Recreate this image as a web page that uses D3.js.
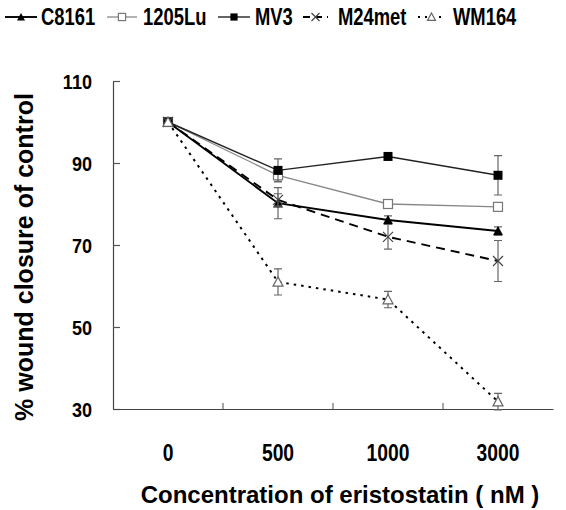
<!DOCTYPE html>
<html><head><meta charset="utf-8">
<script src="https://cdn.jsdelivr.net/npm/d3@7"></script>
<style>body{margin:0;background:#fff}svg{display:block}text{font-family:Arial,"Liberation Sans",sans-serif;font-weight:bold;fill:#000}</style>
</head><body>
<svg id="c" width="566" height="510"></svg>
<script>
const categories = ["0","500","1000","3000"];
const seriesNames = ["C8161","1205Lu","MV3","M24met","WM164"];
const c8161 = [100, 80.2, 76.1, 73.4];
const c8161Err = [0, 3.8, 1.0, 1.0];
const lu1205 = [100, 87.0, 80.0, 79.3];
const lu1205Err = [0, 1.5, 0.6, 0.8];
const mv3 = [100, 88.2, 91.6, 87.0];
const mv3Err = [0, 2.8, 0.8, 4.8];
const m24met = [100, 81.0, 72.0, 66.1];
const m24metErr = [0, 1.5, 3.0, 5.0];
const wm164 = [100, 61.0, 56.7, 31.8];
const wm164Err = [0, 3.2, 2.0, 2.0];
const yTicks = [30, 50, 70, 90, 110];

const svg = d3.select("#c");
const x = d3.scaleBand().domain(categories).range([113, 553]);
const y = d3.scaleLinear().domain([30, 110]).range([409, 81]);

function ctext(parent, tx, ty, str, size, sx, anchor) {
  return parent.append("text")
    .attr("transform", `translate(${tx},${ty}) scale(${sx},1)`)
    .attr("text-anchor", anchor || "start")
    .attr("dominant-baseline", "central")
    .style("font-size", size + "px")
    .text(str);
}

// axes
const yAxis = d3.axisLeft(y).tickValues(yTicks).tickSize(-7).tickSizeOuter(0).tickFormat(d3.format("d"));
const gy = svg.append("g").attr("transform","translate(113,0)").call(yAxis);
gy.select(".domain").attr("stroke","#444").attr("stroke-width",1.2);
gy.selectAll(".tick line").attr("stroke","#555").attr("stroke-width",1.2);
gy.selectAll(".tick text").remove();
gy.selectAll(".tick").each(function(d){ ctext(d3.select(this), -21, 0, String(d), 21, 0.86, "end"); });

const gx = svg.append("g").attr("transform","translate(0,409)").call(d3.axisBottom(x).tickSize(0).tickSizeOuter(0));
gx.select(".domain").attr("stroke","#444").attr("stroke-width",1.2);
gx.selectAll(".tick text").remove();
gx.selectAll(".tick").each(function(d){ ctext(d3.select(this), 0, 44, d, 23, 0.84, "middle"); });
svg.append("g").selectAll("line").data(categories.slice(1)).join("line")
  .attr("x1", d=>x(d)).attr("x2", d=>x(d)).attr("y1",403).attr("y2",409)
  .attr("stroke","#888").attr("stroke-width",1.5);

// titles
svg.append("text").attr("transform","translate(24,257) rotate(-90)").attr("text-anchor","middle")
  .attr("dominant-baseline","central").style("font-size","25px").text("% wound closure of control");
svg.append("text").attr("x",340).attr("y",494).attr("text-anchor","middle").attr("dominant-baseline","central")
  .style("font-size","24px").text("Concentration of eristostatin ( nM )");

const cx = d => x(d) + x.bandwidth()/2;
const series = [
  {name:"C8161", vals:c8161, err:c8161Err, stroke:"#000", width:1.9, dash:null, marker:"triFill"},
  {name:"1205Lu", vals:lu1205, err:lu1205Err, stroke:"#888", width:1.3, dash:null, marker:"sqOpen"},
  {name:"MV3", vals:mv3, err:mv3Err, stroke:"#222", width:1.4, dash:null, marker:"sqFill"},
  {name:"M24met", vals:m24met, err:m24metErr, stroke:"#000", width:1.9, dash:"9,6", marker:"cross"},
  {name:"WM164", vals:wm164, err:wm164Err, stroke:"#000", width:2, dash:"2.5,5", marker:"triOpen"}
];

function drawMarker(g, type, px, py, k) {
  k = k || 1;
  const t = 5*k, s = 4.5*k;
  if (type==="triFill") g.append("path").attr("d",`M${px},${py-t}L${px+t},${py+t*0.85}L${px-t},${py+t*0.85}Z`).attr("fill","#000");
  else if (type==="triOpen") g.append("path").attr("d",`M${px},${py-t}L${px+t},${py+t*0.85}L${px-t},${py+t*0.85}Z`).attr("fill","#fff").attr("stroke","#666").attr("stroke-width",1.2);
  else if (type==="sqFill") g.append("rect").attr("x",px-s).attr("y",py-s).attr("width",2*s).attr("height",2*s).attr("fill","#000");
  else if (type==="sqOpen") g.append("rect").attr("x",px-s).attr("y",py-s).attr("width",2*s).attr("height",2*s).attr("fill","#fff").attr("stroke","#777").attr("stroke-width",1.2);
  else if (type==="cross") g.append("path").attr("d",`M${px-t},${py-t}L${px+t},${py+t}M${px-t},${py+t}L${px+t},${py-t}`).attr("stroke","#444").attr("stroke-width",1.2);
}

const line = d3.line().x(d=>cx(d.c)).y(d=>y(d.v));
series.forEach(s => {
  const pts = categories.map((c,i)=>({c, v:s.vals[i], e:s.err[i]}));
  const g = svg.append("g");
  pts.filter(p=>p.e>0).forEach(p=>{
    const px = cx(p.c);
    g.append("path").attr("d",`M${px},${y(p.v+p.e)}V${y(p.v-p.e)}M${px-4},${y(p.v+p.e)}H${px+4}M${px-4},${y(p.v-p.e)}H${px+4}`)
      .attr("stroke","#666").attr("stroke-width",1.2).attr("fill","none");
  });
  g.append("path").datum(pts).attr("d",line).attr("fill","none").attr("stroke",s.stroke)
    .attr("stroke-width",s.width).attr("stroke-dasharray",s.dash);
  pts.forEach(p=>drawMarker(g, s.marker, cx(p.c), y(p.v)));
});

// legend
const legLine = [[5,37],[107,137],[218,250],[303,328],[418,445]];
const legText = [41, 143, 255, 338, 453];
const legG = svg.append("g");
series.forEach((s,i)=>{
  const [x0,x1] = legLine[i], yy = 17;
  legG.append("line").attr("x1",x0).attr("x2",x1).attr("y1",yy).attr("y2",yy)
    .attr("stroke",s.stroke).attr("stroke-width",s.width).attr("stroke-dasharray",s.dash ? (s.dash==="9,6" ? "7,5" : "2,5") : null);
  drawMarker(legG, s.marker, (x0+x1)/2, yy, 0.8);
  ctext(legG, legText[i], yy, s.name, 23, 0.8, "start");
});
</script>
</body></html>
